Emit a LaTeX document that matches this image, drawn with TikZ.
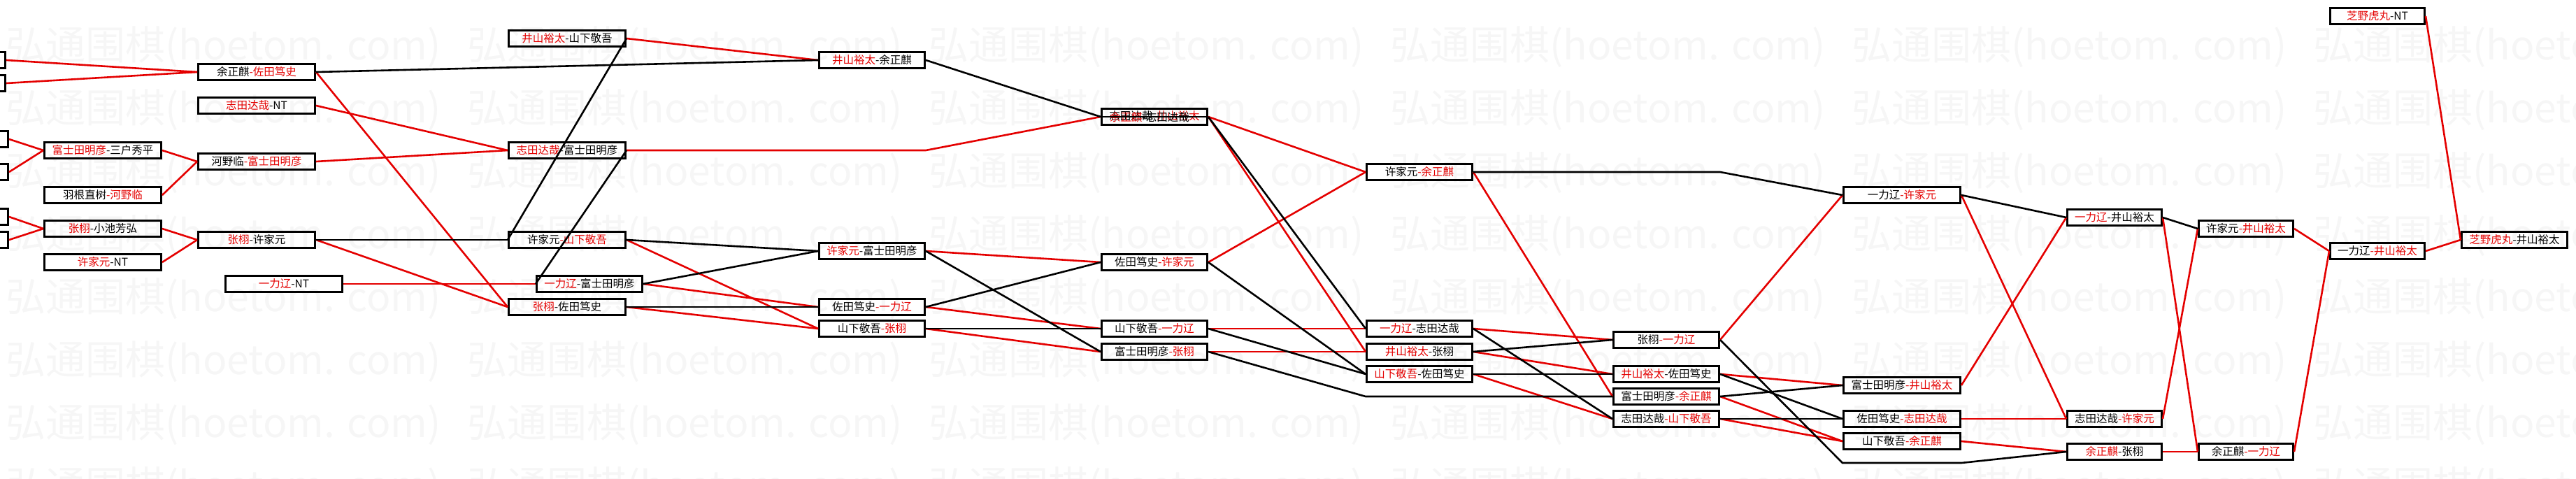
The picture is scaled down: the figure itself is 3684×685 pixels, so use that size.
\documentclass[tikz,border=0pt]{standalone}
\usepackage{fontspec}
\setmainfont{Noto Sans CJK SC}
\usepackage{xcolor}
\usepackage{tikz}
\usetikzlibrary{positioning}
\definecolor{winred}{RGB}{228,0,0}
\definecolor{markgray}{RGB}{246,246,246}
\tikzstyle{game} = [draw=black, line width=3pt, minimum height=23pt, inner sep=0pt, font=\fontsize{15.5}{16}\selectfont]
\tikzstyle{wide} = [game, minimum width=167pt]
\tikzstyle{mid} = [game, minimum width=151pt]
\tikzstyle{slim} = [game, minimum width=135pt]
\tikzstyle{won} = [winred, line width=2.6pt]
\tikzstyle{lost} = [black, line width=2.6pt]
\newcommand{\rd}[1]{\textcolor{winred}{#1}}

\begin{document}
\begin{tikzpicture}[x=1pt, y=-1pt]
\useasboundingbox (0,0) rectangle (3684,685);

% watermark
\foreach \r in {0,...,7}
  \foreach \c in {0,...,5}
    \node[anchor=west, inner sep=0pt, text=markgray, font=\fontsize{57}{57}\selectfont] at (8+660*\c, 67+90*\r) {弘通围棋(hoetom. com)};

% cut-off first round
\node[wide] (p1) at (-76,86) {};
\node[wide] (p2) at (-76,119) {};
\node[wide] (p3) at (-72,199) {};
\node[wide] (p4) at (-72,246) {};
\node[wide] (p5) at (-72,310) {};
\node[wide] (p6) at (-72,343) {};

% second round
\node[wide] (a1) at (147,215) {\rd{富士田明彦}-三户秀平};
\node[wide] (a2) at (147,279) {羽根直树\rd{-河野临}};
\node[wide] (a3) at (147,327) {\rd{张栩}-小池芳弘};
\node[wide] (a4) at (147,375) {\rd{许家元}-NT};

\node[wide] (b1) at (367,103) {余正麒\rd{-佐田笃史}};
\node[wide] (b2) at (367,151) {\rd{志田达哉}-NT};
\node[wide] (b3) at (367,231) {河野临\rd{-富士田明彦}};
\node[wide] (b4) at (367,343) {\rd{张栩}-许家元};
\node[wide] (b5) at (406,406) {\rd{一力辽}-NT};

\node[wide] (c1) at (811,55) {\rd{井山裕太}-山下敬吾};
\node[wide] (c2) at (811,215) {\rd{志田达哉}-富士田明彦};
\node[wide] (c3) at (811,343) {许家元\rd{-山下敬吾}};
\node[mid] (c4) at (843,406) {\rd{一力辽}-富士田明彦};
\node[wide] (c5) at (811,439) {\rd{张栩}-佐田笃史};

\node[mid] (d1) at (1247,86) {\rd{井山裕太}-余正麒};
\node[mid] (d2) at (1247,359) {\rd{许家元}-富士田明彦};
\node[mid] (d3) at (1247,439) {佐田笃史\rd{-一力辽}};
\node[mid] (d4) at (1247,470) {山下敬吾\rd{-张栩}};

\node[mid] (e1) at (1651,167) {\makebox[0pt]{\raisebox{1pt}{志田达哉-\rd{井山裕太}}}\makebox[0pt]{\hspace*{-14pt}\raisebox{-1pt}{\rd{余正麒}-志田达哉}}};
\node[mid] (e2) at (1651,375) {佐田笃史\rd{-许家元}};
\node[mid] (e3) at (1651,470) {山下敬吾\rd{-一力辽}};
\node[mid] (e4) at (1651,503) {富士田明彦\rd{-张栩}};

\node[mid] (f1) at (2030,246) {许家元\rd{-余正麒}};
\node[mid] (f2) at (2030,470) {\rd{一力辽}-志田达哉};
\node[mid] (f3) at (2030,503) {\rd{井山裕太}-张栩};
\node[mid] (f4) at (2030,535) {\rd{山下敬吾}-佐田笃史};

\node[mid] (g1) at (2383,486) {张栩\rd{-一力辽}};
\node[mid] (g2) at (2383,535) {\rd{井山裕太}-佐田笃史};
\node[mid] (g3) at (2383,567) {富士田明彦\rd{-余正麒}};
\node[mid] (g4) at (2383,599) {志田达哉\rd{-山下敬吾}};

\node[wide] (h1) at (2720,279) {一力辽\rd{-许家元}};
\node[wide] (h2) at (2720,551) {富士田明彦\rd{-井山裕太}};
\node[wide] (h3) at (2720,599) {佐田笃史\rd{-志田达哉}};
\node[wide] (h4) at (2720,631) {山下敬吾\rd{-余正麒}};

\node[slim] (i1) at (3024,311) {\rd{一力辽}-井山裕太};
\node[slim] (i2) at (3024,599) {志田达哉\rd{-许家元}};
\node[slim] (i3) at (3024,646) {\rd{余正麒}-张栩};

\node[slim] (j1) at (3212,327) {许家元\rd{-井山裕太}};
\node[slim] (j2) at (3212,646) {余正麒\rd{-一力辽}};

\node[slim] (k0) at (3400,23) {\rd{芝野虎丸}-NT};
\node[slim] (k1) at (3400,359) {一力辽\rd{-井山裕太}};

\node[mid] (l1) at (3596,343) {\rd{芝野虎丸}-井山裕太};

\coordinate (dipL) at (2635,662);
\coordinate (dipR) at (2805,662);

% winners go on
\foreach \s/\t in {p1/b1, p2/b1, p3/a1, p4/a1, p5/a3, p6/a3, a1/b3, a2/b3, a3/b4, a4/b4,
  b1/c5, b2/c2, b3/c2, b4/c5, b5/c4, c1/d1, c3/d4, c4/d3, c5/d4,
  d2/e2, d3/e3, d4/e4, e1/f1, e1/f3, e2/f1, e3/f2, e4/f3,
  f1/g3, f2/g1, f3/g2, f4/g4, g1/h1, g2/h2, g3/h4, g4/h4,
  h1/i2, h2/i1, h3/i2, h4/i3, i1/j2, i2/j1, i3/j2, j1/k1, j2/k1, k0/l1, k1/l1}
  \draw[won] (\s.east) -- (\t.west);
\draw[won] (c2.east) -- (c2.east -| d1.east) -- (e1.west);

% losers drop
\foreach \s/\t in {b1/d1, b4/c3, c1/c3, c2/c4, c3/d2, c4/d2, c5/d3,
  d1/e1, d2/e4, d3/e2, d4/e3, e1/f2, e2/f4, e3/f4,
  f2/g4, f3/g1, f4/g2, g2/h3, g3/h2, g4/h3, h1/i1, i1/j1}
  \draw[lost] (\s.east) -- (\t.west);
\draw[lost] (e4.east) -- (f1.west |- g3.west) -- (g3.west);
\draw[lost] (f1.east) -- (f1.east -| g1.east) -- (h1.west);
\draw[lost] (g1.east) -- (dipL) -- (dipR) -- (i3.west);
\draw[lost, line width=2pt] (e1.west) -- (e1.east);

\end{tikzpicture}
\end{document}
